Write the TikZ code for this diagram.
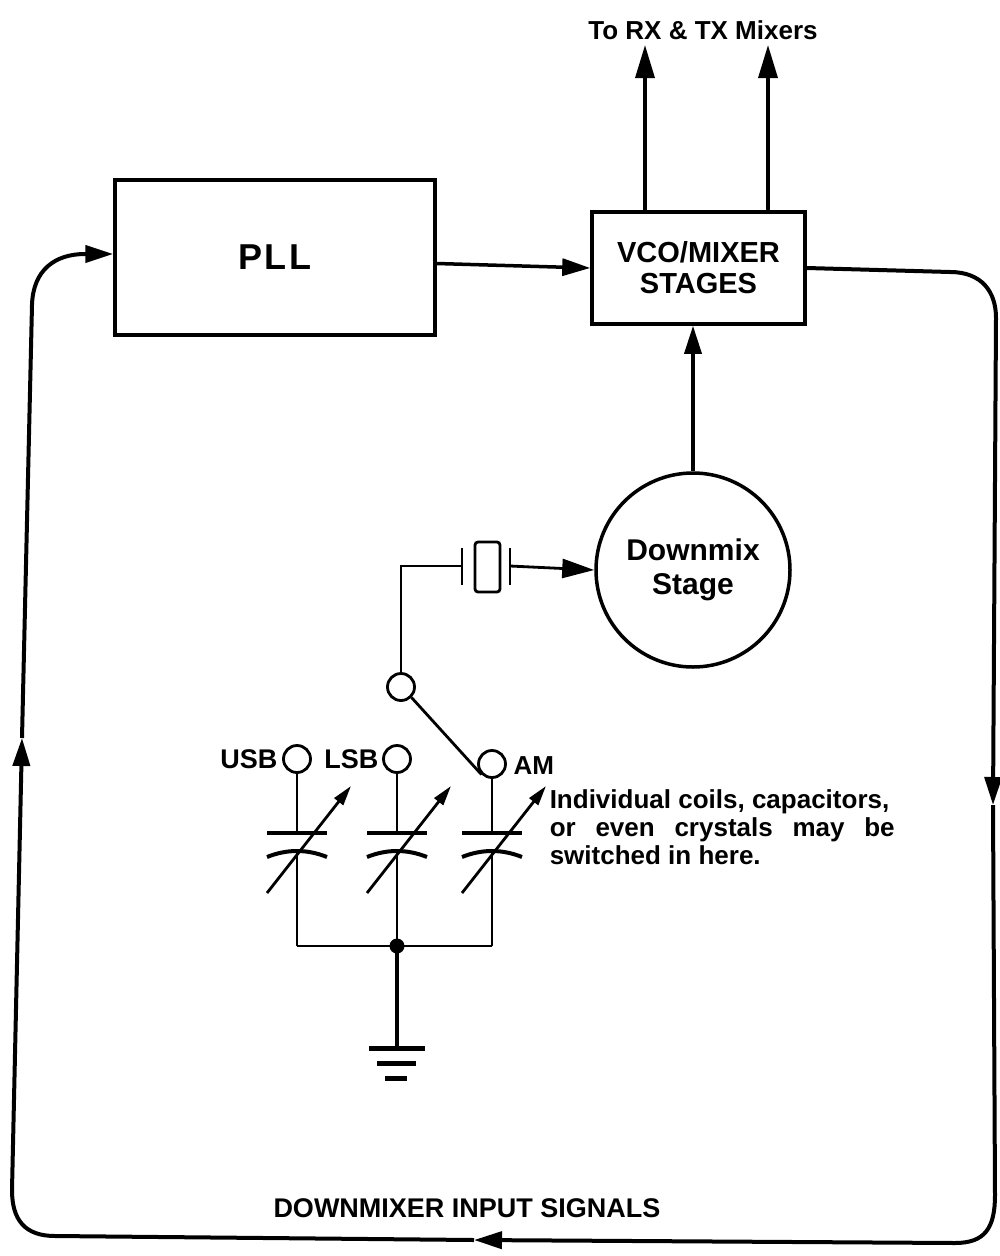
\documentclass[tikz,border=0pt]{standalone}
\usepackage{fontspec}
\usepackage{graphicx}
\setmainfont{Liberation Sans}
\newfontfamily\spc[LetterSpace=6]{Liberation Sans}
\usetikzlibrary{arrows.meta}
\begin{document}
\begin{tikzpicture}[x=1pt,y=-1pt,line width=3.5pt,
  box/.style={draw,inner sep=0pt,align=center},
  lbl/.style={inner sep=0pt,font=\bfseries\fontsize{27}{32}\selectfont},
  big/.style={-{Triangle[length=33pt,width=19pt]}},
  ar/.style={-{Triangle[length=28pt,width=17pt]}},
  capar/.style={line width=2.8pt,-{Triangle[length=20pt,width=11pt]}},
  contact/.style={draw,circle,line width=2.8pt,minimum size=27pt,inner sep=0pt},
  thin/.style={line width=2.8pt}]
\useasboundingbox (0,0) rectangle (999,1256);

% blocks
\node[box,minimum width=320pt,minimum height=155pt,font=\spc\bfseries\fontsize{36}{40}\selectfont] (pll) at (275,257.5) {PLL};
\node[box,minimum width=213pt,minimum height=112pt,font=\bfseries\fontsize{29}{33}\selectfont] (vco) at (698.5,268) {VCO/MIXER\\[-2pt]STAGES};
\node[draw,circle,minimum size=194pt,inner sep=0pt,align=center,font=\bfseries\fontsize{30}{34}\selectfont] (dm) at (693,570) {Downmix\\Stage};

% outputs
\node[lbl,font=\bfseries\fontsize{26}{30}\selectfont] (out) at (703,30) {To RX \& TX Mixers};
\coordinate (o1) at (645,45);
\coordinate (o2) at (768,45);
\draw[big] (vco.north -| o1) -- (o1);
\draw[big] (vco.north -| o2) -- (o2);

\draw[ar] ([yshift=-6pt]pll.east) -- (vco.west);
\draw[ar] (dm.north) -- (dm.north |- vco.south);

% crystal
\node[contact] (sw) at (401,687) {};
\coordinate (p1) at (462,566);
\coordinate (p2) at (510,566);
\draw[thin] (sw.north) |- (p1);
\draw[thin] (462,548) -- (462,585);
\node[draw,thin,rounded corners=3pt,minimum width=25pt,minimum height=50pt,inner sep=0pt] (xt) at (487.5,567) {};
\draw[thin] (510,548) -- (510,585);
\draw[thin,-{Triangle[length=32pt,width=19pt]}] (p2) -- (dm.west);

% contacts
\node[contact] (usb) at (297,759) {};
\node[contact] (lsb) at (397,759) {};
\node[contact] (am) at (492,764) {};
\node[lbl,anchor=east] at ([xshift=-3pt]usb.west) {USB};
\node[lbl,anchor=east] at ([xshift=-2pt]lsb.west) {LSB};
\node[lbl,anchor=west,font=\bfseries\fontsize{26}{30}\selectfont] at ([xshift=5pt,yshift=-2pt]am.east) {AM};
\draw[thin] (sw.-45) -- (am.225);

% variable capacitors
\foreach \n/\x in {usb/297,lsb/397,am/492}{
  \draw[thin] (\n.south) -- (\x,833);
  \draw[line width=4pt] (\x-30,833) -- (\x+30,833);
  \draw[line width=4pt] (\x-30,857) .. controls (\x-10,849) and (\x+10,849) .. (\x+30,857);
  \draw[thin] (\x,851) -- (\x,946);
  \draw[capar] (\x-30,893) -- (\x+54,786);
}
\coordinate (j) at (397,946);
\draw[thin] (297,946) -- (492,946);
\fill (j) circle (7.5pt);
\coordinate (g) at (397,1048);
\draw[line width=3.5pt] (j) -- (g);
\draw[line width=5pt] (369,1048) -- (425,1048);
\draw[line width=5pt] (377,1063) -- (416,1063);
\draw[line width=5pt] (385,1078) -- (407,1078);

% note
\node[inner sep=0pt,anchor=north west,align=left,font=\bfseries\fontsize{26}{28}\selectfont] (note) at (548,788)
  {Individual coils, capacitors,\\\makebox[345pt][s]{or even crystals may be}\\switched in here.};

% loop
\coordinate (a1) at (993,805);
\coordinate (a2) at (474,1240);
\coordinate (a3) at (22,738);
\draw[ar,line width=4pt] (vco.east) -- (950,272) .. controls (982,272) and (996,292) .. (996,318) -- (a1);
\draw[ar,line width=4pt] (a1) -- (995,1195) .. controls (995,1228) and (985,1243) .. (955,1243) -- (a2);
\draw[ar,line width=4pt] (a2) -- (55,1236) .. controls (25,1236) and (12,1220) .. (12,1190) -- (a3);
\draw[ar,line width=4pt] (a3) -- (32,305) .. controls (33,270) and (55,254) .. (85,254) -- (pll.west |- 0,254);

\node[lbl,font=\bfseries\fontsize{27}{30}\selectfont] (dis) at (467,1208) {DOWNMIXER INPUT SIGNALS};
\end{tikzpicture}
\end{document}
